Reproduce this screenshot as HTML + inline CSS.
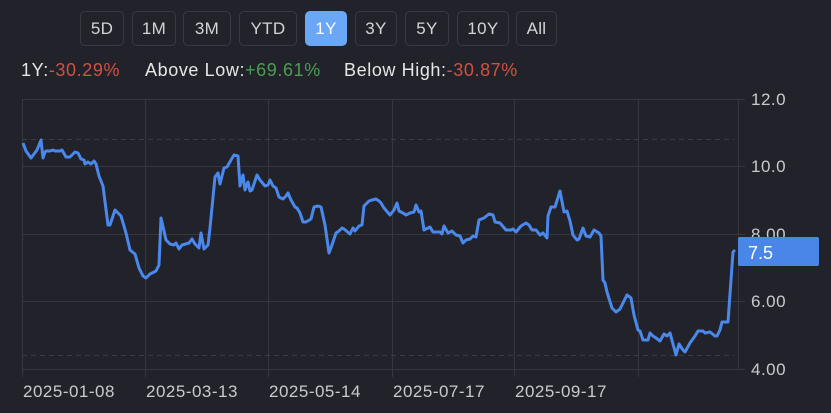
<!DOCTYPE html>
<html><head><meta charset="utf-8"><style>
body{margin:0;width:831px;height:413px;background:#22232a;font-family:"Liberation Sans",sans-serif;overflow:hidden;position:relative}
.b{position:absolute;top:11px;height:35px;border:1px solid #383a42;border-radius:5px;box-sizing:border-box;color:#d4d4d8;font-size:17px;line-height:33px;text-align:center;letter-spacing:0.3px}
.b.on{background:#6aa8f7;border-color:#6aa8f7;color:#fff}
.st{position:absolute;top:60px;font-size:18px;color:#e6e6e6;letter-spacing:0.6px}
.r{color:#d0513f}.g{color:#4a9d52}
</style></head><body>
<div class="b" style="left:80px;width:44px">5D</div>
<div class="b" style="left:132px;width:44px">1M</div>
<div class="b" style="left:183px;width:48px">3M</div>
<div class="b" style="left:239px;width:58px">YTD</div>
<div class="b on" style="left:305px;width:42px">1Y</div>
<div class="b" style="left:355px;width:42px">3Y</div>
<div class="b" style="left:405px;width:44px">5Y</div>
<div class="b" style="left:457px;width:52px">10Y</div>
<div class="b" style="left:516px;width:41px">All</div>
<div class="st" style="left:21px">1Y:<span class="r">-30.29%</span></div>
<div class="st" style="left:145px">Above Low:<span class="g">+69.61%</span></div>
<div class="st" style="left:344px">Below High:<span class="r">-30.87%</span></div>
<svg width="831" height="413" style="position:absolute;left:0;top:0" font-family="Liberation Sans, sans-serif">
<g stroke="#36373e" stroke-width="1">
<line x1="22" y1="99.5" x2="738" y2="99.5"/><line x1="22" y1="166.5" x2="738" y2="166.5"/><line x1="22" y1="234.5" x2="738" y2="234.5"/><line x1="22" y1="301.5" x2="738" y2="301.5"/><line x1="22" y1="369.5" x2="738" y2="369.5"/>
<line x1="22.5" y1="99" x2="22.5" y2="377"/><line x1="145.5" y1="99" x2="145.5" y2="377"/><line x1="268.5" y1="99" x2="268.5" y2="377"/><line x1="392.5" y1="99" x2="392.5" y2="377"/><line x1="514.5" y1="99" x2="514.5" y2="377"/><line x1="638.5" y1="99" x2="638.5" y2="377"/><line x1="738.5" y1="99" x2="738.5" y2="370"/>
<line x1="738" y1="99.5" x2="745" y2="99.5"/><line x1="738" y1="166.5" x2="745" y2="166.5"/><line x1="738" y1="234.5" x2="745" y2="234.5"/><line x1="738" y1="301.5" x2="745" y2="301.5"/><line x1="738" y1="369.5" x2="745" y2="369.5"/>
</g>
<g stroke="#3c3d44" stroke-dasharray="5,4"><line x1="22" y1="139.5" x2="734" y2="139.5"/><line x1="22" y1="355.5" x2="734" y2="355.5"/></g>
<polyline fill="none" stroke="#4a88ec" stroke-width="3" stroke-linejoin="round" points="23,143 26,151 31,158 37,150 41,140 43,158 45,152 46,151 50,151 53,150 55,151 60,151 62,150 66,157 70,157 75,152 78,153 81,159 84,160 85,164 88,162 91,164 94,161 96,164 99,176 103,186 108,225 110,225 115,210 121,216 126,233 130,250 135,254 139,268 143,276 146,278 150,274 156,271 159,265 161,218 166,240 170,244 174,245 176,243 179,249 182,245 189,243 192,239 195,244 199,248 201,233 204,249 208,245 210,228 215,177 218,173 220,184 224,168 227,167 231,160 234,155 238,156 240,186 243,175 245,190 248,182 250,191 252,190 257,175 260,180 265,186 268,185 270,180 273,186 276,188 279,197 283,199 286,196 288,193 291,200 295,207 297,208 300,213 303,222 306,222 311,219 314,207 318,206 321,207 325,225 329,253 332,245 336,233 339,231 342,228 344,229 350,234 353,228 355,231 359,226 362,225 364,206 369,201 372,200 376,199 379,201 381,203 384,208 390,215 394,210 397,203 399,211 403,213 406,215 410,213 414,212 416,205 419,212 421,211 424,230 430,227 433,232 440,232 442,234 444,226 448,233 452,231 456,235 460,236 463,243 466,240 470,239 473,236 476,237 479,220 484,218 489,214 493,215 495,222 500,223 506,230 511,230 513,229 516,232 521,226 526,223 529,225 532,230 536,230 540,235 543,233 547,238 548,216 551,207 555,207 560,191 564,212 567,211 570,221 573,235 577,240 579,239 583,228 586,236 590,237 594,230 599,233 601,236 603,280 605,283 607,292 612,308 616,312 620,309 627,295 631,298 634,315 638,330 640,331 643,340 648,340 650,333 653,336 656,338 660,341 664,334 667,336 670,333 676,355 679,344 683,350 685,352 690,343 695,336 698,331 703,331 705,333 710,332 715,336 717,336 720,330 722,322 728,322 733,252 735,250"/>
<g fill="#c9c9cf" font-size="17" letter-spacing="0.5">
<text x="751" y="105">12.0</text><text x="751" y="172">10.0</text><text x="751" y="240">8.00</text><text x="751" y="307">6.00</text><text x="751" y="375">4.00</text>
<text x="23" y="397">2025-01-08</text><text x="146" y="397">2025-03-13</text><text x="269" y="397">2025-05-14</text><text x="393" y="397">2025-07-17</text><text x="515" y="397">2025-09-17</text>
</g>
<rect x="738" y="237" width="81" height="29" rx="2" fill="#4a86e8"/>
<text x="748" y="259" fill="#fff" font-size="18">7.5</text>
</svg>
</body></html>
